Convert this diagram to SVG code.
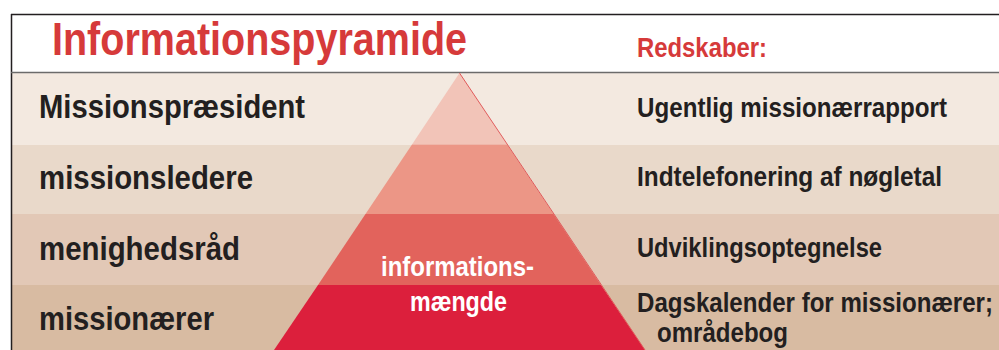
<svg xmlns="http://www.w3.org/2000/svg" width="999" height="350" viewBox="0 0 999 350">
<style>
text{font-family:"Liberation Sans Narrow","Liberation Sans",Arial,sans-serif;font-weight:bold}
.red{fill:#d63a3a}
.lab{fill:#231f20;font-size:34px}
.tool{fill:#231f20;font-size:27px}
.wht{fill:#ffffff;font-size:28px}
</style>
<rect x="0" y="0" width="999" height="350" fill="#ffffff"/>
<g id="bands">
<rect x="11" y="73" width="988" height="72" fill="#f3e9e0"/>
<rect x="11" y="145" width="988" height="69" fill="#e9d9ca"/>
<rect x="11" y="214" width="988" height="71" fill="#e2c8b6"/>
<rect x="11" y="285" width="988" height="65" fill="#d8bba2"/>
</g>
<g id="frame" fill="none">
<line x1="11" y1="14.5" x2="999" y2="14.5" stroke="#231f20" stroke-width="1.5"/>
<line x1="11.5" y1="14" x2="11.5" y2="350" stroke="#231f20" stroke-width="1.5"/>
<line x1="11" y1="72.5" x2="999" y2="72.5" stroke="#6b6b6b" stroke-width="1.5"/>
</g>
<g id="pyramid">
<polygon id="tier1" points="459.5,73 507,144.5 412,144.5" fill="#f2c4b8"/>
<polygon id="tier2" points="412,144.5 507,144.5 553.5,214 365.5,214" fill="#ec9686"/>
<polygon id="tier3" points="365.5,214 553.5,214 601,285 318,285" fill="#e2635c"/>
<polygon id="tier4" points="318,285 601,285 645,350 274,350" fill="#dc1f3c"/>
<line x1="459.5" y1="73" x2="645" y2="350" stroke="#e05a5a" stroke-width="1"/>
</g>
<g id="title">
<text class="red" x="52" y="55" font-size="47" textLength="415" lengthAdjust="spacingAndGlyphs">Informationspyramide</text>
<text class="red" x="637" y="57" font-size="28" textLength="130" lengthAdjust="spacingAndGlyphs">Redskaber:</text>
</g>
<g id="levels">
<text class="lab" x="39" y="118" textLength="266" lengthAdjust="spacingAndGlyphs">Missionspræsident</text>
<text class="lab" x="39" y="189" textLength="214" lengthAdjust="spacingAndGlyphs">missionsledere</text>
<text class="lab" x="39" y="260" textLength="201" lengthAdjust="spacingAndGlyphs">menighedsråd</text>
<text class="lab" x="39" y="330" textLength="175" lengthAdjust="spacingAndGlyphs">missionærer</text>
</g>
<g id="tools">
<text class="tool" x="637" y="117" textLength="310" lengthAdjust="spacingAndGlyphs">Ugentlig missionærrapport</text>
<text class="tool" x="637" y="186" textLength="305" lengthAdjust="spacingAndGlyphs">Indtelefonering af nøgletal</text>
<text class="tool" x="637" y="257" textLength="245" lengthAdjust="spacingAndGlyphs">Udviklingsoptegnelse</text>
<text class="tool" x="637" y="312" textLength="356" lengthAdjust="spacingAndGlyphs">Dagskalender for missionærer;</text>
<text class="tool" x="657" y="342" textLength="131" lengthAdjust="spacingAndGlyphs">områdebog</text>
</g>
<g id="center-label">
<text class="wht" x="381" y="276" textLength="153" lengthAdjust="spacingAndGlyphs">informations-</text>
<text class="wht" x="410" y="311" textLength="97" lengthAdjust="spacingAndGlyphs">mængde</text>
</g>
</svg>
